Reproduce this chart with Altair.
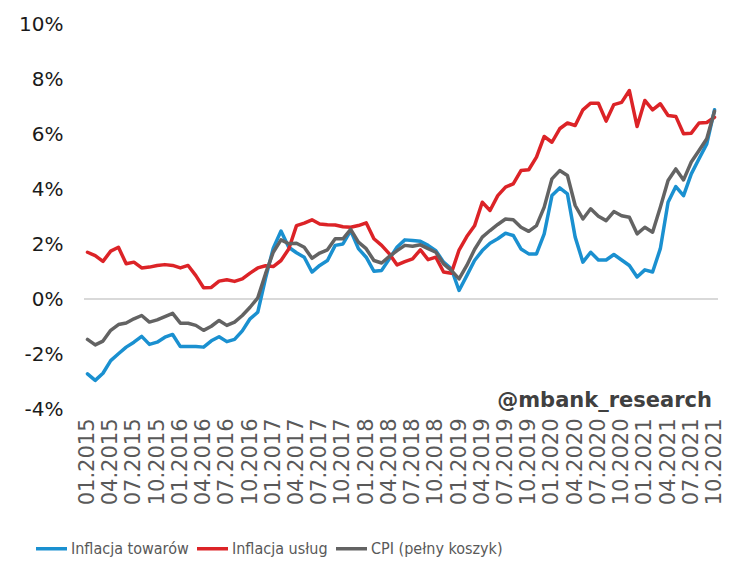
import altair as alt
import pandas as pd

years = list(range(2015, 2022))
months = [f"{m:02d}.{y}" for y in years for m in range(1, 13)][:82]

goods = [-2.72, -2.96, -2.70, -2.24, -1.99, -1.75, -1.57, -1.36, -1.65, -1.57,
         -1.39, -1.29, -1.73, -1.73, -1.73, -1.75, -1.52, -1.37, -1.55, -1.47,
         -1.16, -0.72, -0.48, 0.75, 1.85, 2.47, 1.88, 1.68, 1.52, 0.98,
         1.22, 1.40, 1.95, 2.00, 2.49, 1.83, 1.52, 1.01, 1.04, 1.46,
         1.89, 2.15, 2.13, 2.10, 1.95, 1.76, 1.34, 1.10, 0.31, 0.85,
         1.40, 1.76, 2.03, 2.19, 2.39, 2.31, 1.82, 1.64, 1.64, 2.37,
         3.76, 4.04, 3.82, 2.25, 1.34, 1.70, 1.42, 1.42, 1.62, 1.42,
         1.22, 0.80, 1.06, 0.98, 1.83, 3.52, 4.09, 3.76, 4.55, 5.10,
         5.64, 6.88]

services = [1.70, 1.58, 1.37, 1.74, 1.88, 1.28, 1.34, 1.13, 1.16, 1.22,
            1.25, 1.22, 1.13, 1.22, 0.85, 0.41, 0.42, 0.65, 0.70, 0.64,
            0.73, 0.94, 1.13, 1.21, 1.18, 1.40, 1.82, 2.67, 2.76, 2.88,
            2.73, 2.70, 2.69, 2.63, 2.61, 2.67, 2.77, 2.19, 1.95, 1.64,
            1.24, 1.36, 1.46, 1.79, 1.43, 1.52, 0.98, 0.94, 1.78, 2.27,
            2.66, 3.52, 3.22, 3.76, 4.07, 4.19, 4.67, 4.70, 5.16, 5.91,
            5.70, 6.19, 6.40, 6.31, 6.88, 7.12, 7.12, 6.47, 7.07, 7.15,
            7.58, 6.27, 7.22, 6.88, 7.10, 6.67, 6.64, 6.01, 6.03, 6.40,
            6.42, 6.61]

cpi = [-1.47, -1.67, -1.53, -1.14, -0.93, -0.87, -0.72, -0.60, -0.84, -0.76,
       -0.64, -0.52, -0.88, -0.88, -0.96, -1.14, -0.99, -0.78, -0.96, -0.84,
       -0.60, -0.30, 0.04, 0.92, 1.70, 2.15, 2.01, 2.03, 1.88, 1.48,
       1.67, 1.79, 2.19, 2.19, 2.53, 2.07, 1.83, 1.40, 1.31, 1.55,
       1.76, 1.95, 1.92, 1.97, 1.83, 1.70, 1.28, 1.04, 0.73, 1.22,
       1.80, 2.25, 2.49, 2.71, 2.91, 2.88, 2.61, 2.46, 2.67, 3.34,
       4.37, 4.67, 4.49, 3.40, 2.91, 3.28, 3.01, 2.85, 3.18, 3.03,
       2.97, 2.37, 2.61, 2.43, 3.34, 4.31, 4.73, 4.33, 4.98, 5.40,
       5.83, 6.83]

series_names = ["Inflacja towarów", "Inflacja usług", "CPI (pełny koszyk)"]
colors = ["#1a90d0", "#dc2327", "#636363"]
widths = [3.5, 3.5, 5.0]
y_ticks = [-4, -2, 0, 2, 4, 6, 8, 10]
watermark = ["@mbank_research"]

rows = []
for k, (name, vals) in enumerate(zip(series_names, [goods, services, cpi])):
    for m, v in zip(months, vals):
        rows.append({"month": m, "value": v, "series": name, "order": k})
df = pd.DataFrame(rows)

W, H = 634, 385

x_enc = alt.X(
    "month:O", sort=months,
    scale=alt.Scale(type="point", padding=0.45),
    axis=alt.Axis(values=months[::3], labelAngle=-90, labelFontSize=21,
                  labelColor="#595959", labelFont="DejaVu Sans", labelPadding=9,
                  ticks=False, domain=False, title=None, labelOverlap=False,
                  labelAlign="right", labelBaseline="middle", grid=False),
)
y_enc = alt.Y(
    "value:Q",
    scale=alt.Scale(domain=[-4, 10], nice=False, zero=False),
    axis=alt.Axis(values=y_ticks, labelExpr="datum.value + '%'", grid=False,
                  ticks=False, domain=False, labelFontSize=20, labelFont="DejaVu Sans",
                  labelColor="#1a1a1a", labelPadding=21, title=None),
)

zero = alt.Chart(pd.DataFrame({"v": [0]})).mark_rule(
    color="#d9d9d9", strokeWidth=2
).encode(y=alt.Y("v:Q", scale=alt.Scale(domain=[-4, 10], nice=False)))

lines = alt.Chart(df).mark_line(strokeJoin="round", strokeCap="round").encode(
    x=x_enc,
    y=y_enc,
    color=alt.Color(
        "series:N",
        scale=alt.Scale(domain=series_names, range=colors),
        legend=alt.Legend(
            orient="none", legendX=-50, legendY=507, direction="horizontal",
            symbolType="stroke", symbolSize=960, symbolStrokeWidth=4.5,
            labelFontSize=16,
            labelFont="Liberation Sans Narrow, DejaVu Sans Condensed, sans-serif",
            labelColor="#595959", columnPadding=1, labelOffset=2, title=None,
        ),
    ),
    strokeWidth=alt.StrokeWidth(
        "series:N", scale=alt.Scale(domain=series_names, range=widths), legend=None
    ),
    order=alt.Order("order:Q"),
)

wm = alt.Chart(pd.DataFrame({"t": watermark})).mark_text(
    align="right", baseline="alphabetic", fontSize=21, fontWeight="bold",
    color="#404040", font="DejaVu Sans"
).encode(x=alt.value(628), y=alt.value(383), text="t:N")

chart = alt.layer(zero, lines, wm).properties(
    width=W, height=H,
    padding={"left": 76, "top": 16, "right": 16, "bottom": 152},
    autosize=alt.AutoSizeParams(type="none"),
).configure(background="white").configure_view(stroke=None)

chart.save("out.html", embed_options={"renderer": "svg", "actions": False})
